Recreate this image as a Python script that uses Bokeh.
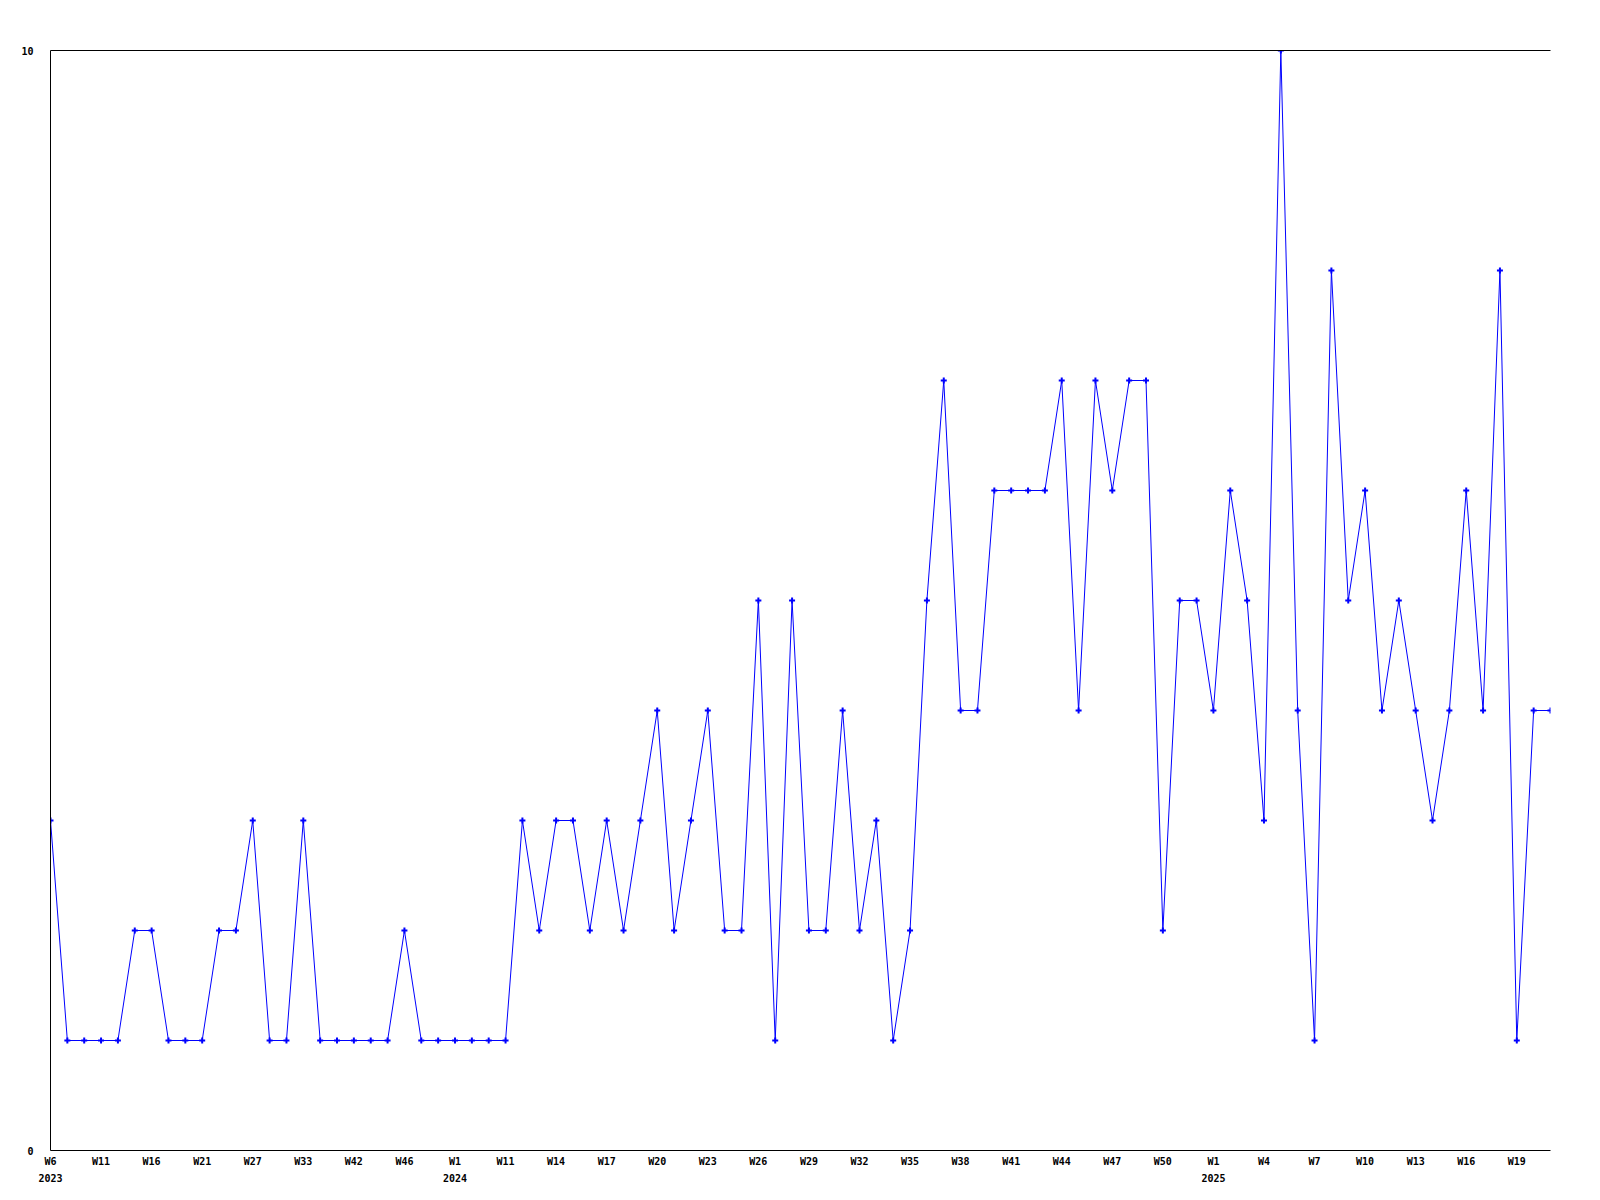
from bokeh.plotting import figure
from bokeh.models import FixedTicker, LinearAxis, Range1d
from bokeh.embed import file_html
from bokeh.resources import INLINE

# ---- data ----
weeks = [
    # 2023
    "W6", "W8", "W9", "W11", "W13", "W14", "W16", "W18", "W19", "W21", "W24", "W25",
    "W27", "W29", "W31", "W33", "W36", "W39", "W42", "W43", "W45", "W46", "W49", "W51",
    # 2024
    "W1", "W5", "W8", "W11", "W12", "W13", "W14", "W15", "W16", "W17", "W18", "W19",
    "W20", "W21", "W22", "W23", "W24", "W25", "W26", "W27", "W28", "W29", "W30", "W31",
    "W32", "W33", "W34", "W35", "W36", "W37", "W38", "W39", "W40", "W41", "W42", "W43",
    "W44", "W45", "W46", "W47", "W48", "W49", "W50", "W51", "W52",
    # 2025
    "W1", "W2", "W3", "W4", "W5", "W6", "W7", "W8", "W9", "W10", "W11", "W12",
    "W13", "W14", "W15", "W16", "W17", "W18", "W19", "W20", "W21",
]
years = [2023] * 24 + [2024] * 45 + [2025] * 21
values = [
    3, 1, 1, 1, 1, 2, 2, 1, 1, 1, 2, 2,
    3, 1, 1, 3, 1, 1, 1, 1, 1, 2, 1, 1,
    1, 1, 1, 1, 3, 2, 3, 3, 2, 3, 2, 3,
    4, 2, 3, 4, 2, 2, 5, 1, 5, 2, 2, 4,
    2, 3, 1, 2, 5, 7, 4, 4, 6, 6, 6, 6,
    7, 4, 7, 6, 7, 7, 2, 5, 5, 4, 6, 5,
    3, 10, 4, 1, 8, 5, 6, 4, 5, 4, 3, 4,
    6, 4, 8, 1, 4, 4,
]
y_ticks = [0, 10]

xs = list(range(len(values)))
FONT = "DejaVu Sans Mono"

p = figure(
    output_backend="svg", toolbar_location=None,
    frame_width=1500, frame_height=1100,
    min_border_left=50, min_border_right=40, min_border_top=50, min_border_bottom=40,
    x_range=Range1d(0, len(values) - 1), y_range=Range1d(0, 10),
    x_axis_location=None, y_axis_location=None,
    background_fill_color="white", border_fill_color="white",
)
p.outline_line_color = None
p.xgrid.visible = False
p.ygrid.visible = False

# left axis
yaxis = LinearAxis(ticker=FixedTicker(ticks=y_ticks))
yaxis.axis_line_color = "black"
yaxis.major_tick_line_color = None
yaxis.minor_tick_line_color = None
yaxis.major_tick_out = 0
yaxis.major_tick_in = 0
yaxis.major_label_standoff = 17
yaxis.major_label_text_font = FONT
yaxis.major_label_text_font_style = "bold"
yaxis.major_label_text_font_size = "10px"
yaxis.major_label_text_color = "black"
p.add_layout(yaxis, "left")

# top border line
top = LinearAxis(ticker=FixedTicker(ticks=[]))
top.axis_line_color = "black"
top.major_tick_line_color = None
top.minor_tick_line_color = None
top.major_label_text_font_size = "0px"
p.add_layout(top, "above")

# bottom week axis
tick_idx = list(range(0, len(values), 3))
xaxis = LinearAxis(ticker=FixedTicker(ticks=tick_idx))
xaxis.major_label_overrides = {i: weeks[i] for i in tick_idx}
xaxis.axis_line_color = "black"
xaxis.major_tick_line_color = None
xaxis.minor_tick_line_color = None
xaxis.major_tick_out = 0
xaxis.major_tick_in = 0
xaxis.major_label_standoff = 5
xaxis.major_label_text_font = FONT
xaxis.major_label_text_font_style = "bold"
xaxis.major_label_text_font_size = "10px"
xaxis.major_label_text_color = "black"
p.add_layout(xaxis, "below")

# bottom year axis
year_idx = [i for i in range(len(years)) if i == 0 or years[i] != years[i - 1]]
yearaxis = LinearAxis(ticker=FixedTicker(ticks=year_idx))
yearaxis.major_label_overrides = {i: str(years[i]) for i in year_idx}
yearaxis.axis_line_color = None
yearaxis.major_tick_line_color = None
yearaxis.minor_tick_line_color = None
yearaxis.major_tick_out = 0
yearaxis.major_tick_in = 0
yearaxis.major_label_standoff = 4
yearaxis.major_label_text_font = FONT
yearaxis.major_label_text_font_style = "bold"
yearaxis.major_label_text_font_size = "10px"
yearaxis.major_label_text_color = "black"
p.add_layout(yearaxis, "below")

p.line(xs, values, line_color="#0000ff", line_width=1)
p.scatter(xs, values, marker="cross", size=6, line_color="#0000ff", line_width=2)

open("out.html", "w").write(file_html(p, INLINE))
